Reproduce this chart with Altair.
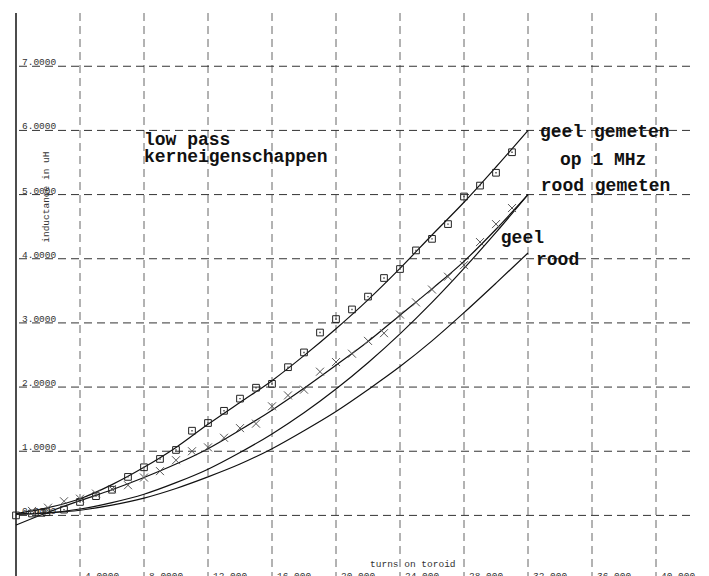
import altair as alt
import pandas as pd

# ---- axis ticks ----
x_ticks = [4, 8, 12, 16, 20, 24, 28, 32, 36, 40]
x_tick_labels = ["4.0000", "8.0000", "12.000", "16.000", "20.000",
                 "24.000", "28.000", "32.000", "36.000", "40.000"]
y_ticks = [0, 1, 2, 3, 4, 5, 6, 7]
y_tick_labels = ["0.0000", "1.0000", "2.0000", "3.0000",
                 "4.0000", "5.0000", "6.0000", "7.0000"]

# ---- measured points: geel gemeten (squares) ----
sq_turns = [0, 1, 1.6, 1.9, 3, 4, 5, 6, 7, 8, 9, 10, 11, 12, 13, 14, 15, 16,
            17, 18, 19, 20, 21, 22, 23, 24, 25, 26, 27, 28, 29, 30, 31]
sq_vals = [0.0, 0.03, 0.04, 0.05, 0.09, 0.21, 0.30, 0.40, 0.60, 0.75, 0.88,
           1.02, 1.32, 1.44, 1.63, 1.82, 1.99, 2.05, 2.31, 2.54, 2.85, 3.06,
           3.21, 3.41, 3.70, 3.84, 4.13, 4.31, 4.54, 4.97, 5.14, 5.34, 5.66]

# ---- measured points: rood gemeten (crosses) ----
cr_turns = [1, 2, 3, 4, 5, 6, 7, 8, 9, 10, 11, 12, 13, 14, 15, 16, 17, 18,
            19, 20, 21, 22, 23, 24, 25, 26, 27, 28, 29, 30, 31]
cr_vals = [0.07, 0.12, 0.22, 0.26, 0.34, 0.41, 0.47, 0.59, 0.69, 0.86, 1.00,
           1.06, 1.21, 1.36, 1.43, 1.70, 1.87, 1.96, 2.24, 2.39, 2.52, 2.72,
           2.84, 3.13, 3.32, 3.52, 3.72, 3.90, 4.26, 4.54, 4.79]

# ---- curves ----
fit_turns = [0, 2, 4, 6, 8, 10, 12, 14, 16, 18, 20, 22, 24, 26, 28, 30, 32]
fit_geel_gemeten = [0.03, 0.12, 0.26, 0.48, 0.75, 1.06, 1.42, 1.76, 2.10,
                    2.49, 2.91, 3.36, 3.85, 4.37, 4.88, 5.43, 6.00]
fit_rood_gemeten = [-0.15, 0.05, 0.23, 0.40, 0.59, 0.80, 1.04, 1.33, 1.64,
                    1.98, 2.34, 2.71, 3.12, 3.53, 3.96, 4.46, 5.00]
fit_geel = [0.02, 0.04, 0.10, 0.20, 0.33, 0.51, 0.72, 0.98, 1.27, 1.60,
            1.97, 2.38, 2.83, 3.32, 3.85, 4.41, 5.00]
fit_rood = [0.02, 0.04, 0.08, 0.16, 0.27, 0.42, 0.60, 0.80, 1.04, 1.32,
            1.62, 1.96, 2.32, 2.72, 3.16, 3.62, 4.09]

# ---- annotations ----
ann_text = ["low pass\nkerneigenschappen", "geel gemeten", "op 1 MHz",
            "rood gemeten", "geel", "rood"]
ann_x = [8.0, 32.75, 34.0, 32.8, 30.3, 32.5]
ann_y = [5.77, 5.90, 5.46, 5.06, 4.25, 3.90]

X_DOM = [0, 42.125]
Y_DOM = [-0.96, 7.83]


def X(f):
    return alt.X(f, type="quantitative", scale=alt.Scale(domain=X_DOM, nice=False, zero=False), axis=None)


def Y(f):
    return alt.Y(f, type="quantitative", scale=alt.Scale(domain=Y_DOM, nice=False, zero=False), axis=None)


FONT_SMALL = "Liberation Mono"

vgrid = alt.Chart(pd.DataFrame({"x": x_ticks})).mark_rule(
    color="#666", strokeWidth=1, strokeDash=[8, 5]
).encode(x=X("x"))

hgrid = alt.Chart(pd.DataFrame({"y": y_ticks})).mark_rule(
    color="#333", strokeWidth=1, strokeDash=[8, 5]
).encode(y=Y("y"))

yaxis_line = alt.Chart(pd.DataFrame({"x": [0]})).mark_rule(
    color="#111", strokeWidth=1.5
).encode(x=X("x"))

ylabels = alt.Chart(pd.DataFrame({"y": y_ticks, "t": y_tick_labels, "x": [0.375] * len(y_ticks)})).mark_text(
    align="left", baseline="alphabetic", dy=-1, font=FONT_SMALL, fontSize=9.5, color="#333"
).encode(x=X("x"), y=Y("y"), text="t:N")

xlabels = alt.Chart(pd.DataFrame({"x": x_ticks, "t": x_tick_labels, "y": [-0.87] * len(x_ticks)})).mark_text(
    align="left", baseline="top", dx=5, font=FONT_SMALL, fontSize=9.5, color="#333"
).encode(x=X("x"), y=Y("y"), text="t:N")

xtitle = alt.Chart(pd.DataFrame({"x": [24.8], "y": [-0.75], "t": ["turns on toroid"]})).mark_text(
    align="center", baseline="middle", font=FONT_SMALL, fontSize=9.5, color="#333"
).encode(x=X("x"), y=Y("y"), text="t:N")

ytitle = alt.Chart(pd.DataFrame({"x": [1.9], "y": [4.96], "t": ["inductance in uH"]})).mark_text(
    align="center", baseline="middle", angle=270, font=FONT_SMALL, fontSize=9.5, color="#333"
).encode(x=X("x"), y=Y("y"), text="t:N")

curves_df = pd.concat([
    pd.DataFrame({"n": fit_turns, "v": fit_geel_gemeten, "s": "geel gemeten"}),
    pd.DataFrame({"n": fit_turns, "v": fit_rood_gemeten, "s": "rood gemeten"}),
    pd.DataFrame({"n": fit_turns, "v": fit_geel, "s": "geel"}),
    pd.DataFrame({"n": fit_turns, "v": fit_rood, "s": "rood"}),
])

curves = alt.Chart(curves_df).mark_line(
    color="#111", strokeWidth=1.2, interpolate="monotone"
).encode(x=X("n"), y=Y("v"), detail="s:N")

sq_df = pd.DataFrame({"n": sq_turns, "v": sq_vals})
squares = alt.Chart(sq_df).mark_point(
    shape="square", filled=False, size=45, stroke="#222", strokeWidth=1, opacity=1
).encode(x=X("n"), y=Y("v"))
sq_dots = alt.Chart(sq_df).mark_point(
    shape="square", filled=True, size=2, color="#444", opacity=1
).encode(x=X("n"), y=Y("v"))

crosses = alt.Chart(pd.DataFrame({"n": cr_turns, "v": cr_vals})).mark_point(
    shape="M-1,-1L1,1M-1,1L1,-1", filled=False, size=64, stroke="#555", strokeWidth=1, opacity=1
).encode(x=X("n"), y=Y("v"))

annotations = alt.Chart(pd.DataFrame({"x": ann_x, "y": ann_y, "t": ann_text})).mark_text(
    align="left", baseline="alphabetic", font="Liberation Mono", fontWeight="bold",
    fontSize=18, color="#111", lineBreak="\n", lineHeight=17
).encode(x=X("x"), y=Y("y"), text="t:N")

chart = alt.layer(
    vgrid, hgrid, yaxis_line, ylabels, xlabels, xtitle, ytitle,
    curves, squares, sq_dots, crosses, annotations
).properties(
    width=674, height=564,
    padding={"left": 8, "top": 5, "right": 11, "bottom": 0},
    autosize=alt.AutoSizeParams(type="none"),
    background="white",
).configure_view(stroke=None)

chart.save("out.html", embed_options={"renderer": "svg", "actions": False})
